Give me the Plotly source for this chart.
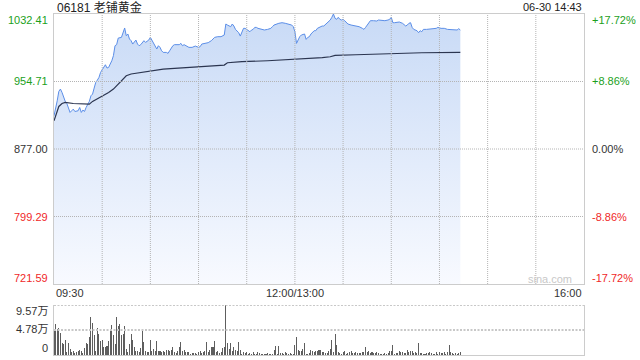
import plotly.graph_objects as go

# ---------------- data ----------------
prev_close = 877.00
axis_min, axis_max = 721.59, 1032.41

# minutes since 09:30 (trading minutes; 150 = 12:00/13:00)
price_min = [0, 1, 2, 3, 4, 5, 6, 7, 8, 9, 10, 11, 12, 13, 15, 16, 17, 18, 19, 20, 21, 22, 23, 24, 25, 26, 27,
             28, 29, 30, 31, 32, 33, 34, 35, 36, 37, 38, 39, 40, 42, 43, 44, 45, 46, 47, 48, 49, 50, 51, 52, 53,
             54, 55, 56, 57, 58, 59, 60, 61, 62, 63, 64, 65, 66, 67, 68, 70, 71, 72, 73, 74, 75, 76, 77, 78, 79,
             80, 81, 82, 83, 84,
             86, 88, 90, 91, 92, 94, 96, 98, 100, 102, 104, 106, 107, 108, 109, 110, 111, 112, 113, 115,
             116, 117, 118, 119, 120, 121, 122, 123, 124, 125, 126, 127, 128, 129, 131, 133, 135, 136, 137, 140,
             142, 144, 146, 148, 149, 150, 151, 152, 153, 154, 156, 157, 158, 159, 160, 162, 163, 164, 165, 166, 167,
             168, 170, 172, 173, 174, 175, 176, 177, 178, 179, 180, 181, 182, 183, 185, 188, 190, 192, 193, 194,
             195, 196, 197, 199, 201, 202, 204, 206, 208, 209, 210, 211, 212, 215, 217, 218, 219, 220, 221, 222,
             223, 224, 225, 226, 227, 228, 229, 230, 232, 234, 236, 238, 239, 241, 243, 245, 247, 249, 251, 252, 253]
price_val = [915.2, 922.9, 932.5, 943.3, 946.0, 942.1, 936.4, 931.8, 929.4, 924.8,
             919.1, 921.0, 922.9, 920.2, 921.0, 924.8, 919.1, 921.8, 920.2, 924.8,
             928.7, 931.8, 938.3, 940.2, 947.1, 953.7, 956.3, 959.4, 965.2, 967.9,
             971.7, 974.0, 970.2, 970.9, 974.8, 978.6, 984.4, 995.9, 997.1, 1004.7,
             1005.5, 1011.3, 1016.3, 1007.4, 1009.4, 1003.6, 1001.7, 997.8, 999.7, 1002.4,
             997.8, 995.9, 997.1, 999.7, 1001.7, 999.7, 1000.9, 1002.4, 1005.5, 1002.4,
             999.7, 995.9, 992.1, 995.9, 994.0, 990.1, 988.2, 988.2, 987.1, 990.1,
             994.0, 995.9, 997.1, 997.1, 997.8, 997.1, 998.6, 995.9, 997.1, 995.9,
             994.8, 994.0,
             994.0, 995.5, 994.0, 994.8, 997.8, 998.6, 999.4, 1001.7, 1005.5, 1006.3,
             1006.3, 1008.2, 1020.9, 1019.7, 1018.6, 1017.8, 1020.9, 1018.6, 1014.7, 1010.9,
             1007.0, 1010.9, 1015.9, 1015.9, 1014.7, 1014.0, 1012.0, 1014.0, 1014.7, 1017.0,
             1017.0, 1015.9, 1015.5, 1014.7, 1014.0, 1014.7, 1015.9, 1017.8, 1019.7, 1021.7,
             1022.4, 1021.7, 1020.9, 1019.7, 1017.8, 1012.0, 998.6, 1003.2, 1006.3, 1008.2,
             1009.4, 1003.2, 1005.5, 1006.3, 1009.4, 1013.2, 1013.2, 1015.9, 1017.0, 1017.8,
             1018.6,
             1018.6, 1021.7, 1025.5, 1028.6, 1032.4, 1027.4, 1026.3, 1028.6, 1026.3, 1025.5,
             1026.3, 1024.7, 1022.4, 1020.9, 1019.7, 1018.6, 1017.8, 1015.9, 1014.7, 1017.0,
             1019.7, 1022.4, 1024.7, 1024.7, 1024.3, 1025.5, 1024.7, 1024.7, 1025.5, 1026.3,
             1028.6, 1022.4, 1022.4, 1023.2, 1021.7, 1019.7, 1018.6, 1019.7, 1021.7, 1022.4,
             1017.0, 1014.7, 1014.0, 1013.2, 1010.9, 1013.2, 1012.0, 1014.7, 1014.7, 1015.5,
             1015.5, 1015.9, 1017.0, 1015.9, 1015.9, 1014.7, 1014.7, 1014.7, 1014.0, 1015.5,
             1014.0]

avg_min = [0, 1, 2, 3, 5, 7, 12, 17, 22, 24, 28, 31, 34, 37, 40, 43, 45, 48, 52, 56, 62, 68, 75, 83,
           96, 106, 108, 117, 133, 150, 167, 172, 175, 188, 208, 229, 253]
avg_val = [909.5, 915.0, 921.0, 926.0, 929.4, 930.6, 929.4, 928.7, 928.7, 931.8, 935.6, 939.4, 942.1,
           946.0, 951.7, 957.5, 961.3, 963.3, 964.4, 966.3, 967.9, 969.0, 969.8, 971.0,
           972.5, 973.6, 976.3, 977.5, 978.6, 980.2, 982.1, 983.2, 984.8, 985.5, 986.7, 987.8, 988.2]

# volume per minute (万股), from 09:30
volume = [4.85, 5.89, 4.98, 5.11, 4.21, 2.26, 2.14, 2.78, 0.52, 2.26,
          1.16, 0.5, 0.71, 0.32, 0.52, 0.84, 0.97, 0.84, 0.32, 1.29, 2.26,
          2.14, 3.43, 7.31, 6.15, 3.75, 0.84, 5.11, 3.95, 2.65, 2.78,
          1.62, 1.62, 1.81, 2.65, 4.72, 5.69, 3.75, 2.14, 7.31, 5.50,
          5.89, 3.75, 4.08, 5.50, 1.16, 0.6, 2.14, 4.08, 2.91, 1.62, 0.84,
          0.71, 0.52, 1.29, 4.98, 2.46, 0.84, 0.52, 0.52, 2.78, 0.84,
          1.16, 0.84, 2.65, 0.84, 0.84, 0.52, 0.84, 0.52, 0.97, 0.97,
          0.84, 0.97, 1.62, 0.52, 0.32, 0.84, 1.62, 2.46, 0.84, 0.97,
          0.52, 0.5,
          0.52, 0.19, 0.32, 0.32, 0.32, 0.19, 0.52, 0.71, 0.32, 0.52,
          0.84, 2.46, 0.52, 0.97, 1.62, 1.49, 2.65, 0.52, 0.71, 0.32,
          0.52, 1.36, 1.62, 9.57, 2.26, 1.16, 2.26, 0.84, 1.49, 0.97,
          0.71, 2.46, 0.97, 0.19, 0.52, 0.32, 0.52, 0.19, 0.32, 0.19,
          0.52, 0.19, 0.19, 0.52, 0.32, 0.19, 0.10, 0.19, 0.19, 0.32,
          0.19, 0.19, 0.19, 0.97, 1.81, 0.19, 1.81, 0.32, 0.32, 0.19,
          0.52, 0.32, 0.19, 0.32, 0.19, 0.10, 2.01, 3.43, 0.97, 0.84,
          0.84, 1.16, 2.26, 0.19, 0.19, 0.32, 0.97, 0.84, 0.52, 0.71,
          0.84, 0.97, 0.97, 0.52,
          0.52, 0.32, 0.32, 0.84, 1.16, 2.91, 0.52, 3.95, 2.01, 0.52,
          0.32, 0.19, 0.52, 0.71, 0.19, 0.32, 0.52, 0.71, 0.32, 0.32,
          0.52, 0.32, 0.32, 0.32, 0.52, 0.52, 1.62, 0.52, 0.71, 0.32,
          0.52, 0.32, 0.32, 0.52, 0.32, 0.19, 0.19, 0.19, 0.32, 0.19,
          0.32, 0.71, 0.84, 2.01, 0.19, 0.32, 0.32, 0.71, 0.52, 0.52,
          0.32, 0.32, 0.97, 0.52, 0.71, 0.84, 0.32, 0.52, 0.32, 2.26,
          0.32, 0.32, 0.19, 0.19, 0.32, 0.32, 0.52, 0.32, 0.19, 0.19,
          0.52, 0.19, 0.52, 0.32, 0.32, 0.52, 0.19, 0.52, 2.01, 0.52,
          0.32, 0.19, 0.32, 0.19, 0.32, 0.52]
vol_min = list(range(len(volume)))

y_ticks = [1032.41, 954.71, 877.00, 799.29, 721.59]
y_tick_text = ["1032.41", "954.71", "877.00", "799.29", "721.59"]
pct_text = ["+17.72%", "+8.86%", "0.00%", "-8.86%", "-17.72%"]
vol_max = 9.57
vol_ticks = [9.57, 4.78, 0]
vol_tick_text = ["9.57万", "4.78万", "0"]
session_len = 330
grid_step = 30
time_ticks = [0, 150, 330]
time_text = ["09:30", "12:00/13:00", "16:00"]
title_text = "06181 老铺黄金"
stamp_text = "06-30 14:43"

# ---------------- styling ----------------
W, H = 640, 360
FONT = "Liberation Sans, Arial, Noto Sans CJK SC, sans-serif"
GREEN, RED, DARK = "#1c9f1c", "#f02828", "#333333"
GRID = "#b4b4b4"
BORDER = "#cccccc"

def px_x(p):
    return p / W

def px_y(p):
    return 1 - p / H

fig = go.Figure()
fig.add_trace(go.Scatter(
    x=price_min, y=price_val, mode="lines",
    line=dict(color="#5b8ee8", width=1),
    fill="tozeroy",
    fillgradient=dict(type="vertical", start=axis_min, stop=axis_max,
                      colorscale=[[0, "#f8faff"], [1, "#c8daf6"]]),
    hoverinfo="skip", xaxis="x", yaxis="y"))
fig.add_trace(go.Scatter(
    x=avg_min, y=avg_val, mode="lines",
    line=dict(color="#2b3550", width=1.2),
    hoverinfo="skip", xaxis="x", yaxis="y"))
fig.add_trace(go.Bar(
    x=vol_min, y=volume, width=0.65,
    marker=dict(color="#5e5e5e", line=dict(width=0)),
    hoverinfo="skip", xaxis="x2", yaxis="y2"))

xdom = [px_x(54), px_x(584)]
fig.update_layout(
    width=W, height=H, margin=dict(l=0, r=0, t=0, b=0),
    paper_bgcolor="white", plot_bgcolor="rgba(0,0,0,0)",
    showlegend=False, bargap=0,
    xaxis=dict(domain=xdom, range=[0, session_len], showticklabels=False,
               showgrid=False, zeroline=False,
               showline=True, mirror=True, linecolor=BORDER, linewidth=1, ticks="",
               anchor="y"),
    yaxis=dict(domain=[px_y(284), px_y(14)], range=[axis_min, axis_max],
               showticklabels=False, showgrid=False,
               zeroline=False, showline=True, mirror=True, linecolor=BORDER, linewidth=1,
               ticks="", anchor="x"),
    xaxis2=dict(domain=xdom, range=[0, session_len], showticklabels=False, showgrid=False, zeroline=False,
                showline=True, linecolor=BORDER, linewidth=1, ticks="", anchor="y2"),
    yaxis2=dict(domain=[px_y(355), px_y(305)], range=[0, vol_max],
                showticklabels=False, showgrid=False,
                zeroline=False, showline=True, mirror=True, linecolor=BORDER, linewidth=1,
                ticks="", anchor="x2"),
)

shapes = []
# main panel dotted grid drawn above the fill
for gx in range(grid_step, session_len, grid_step):
    shapes.append(dict(type="line", xref="x", yref="y", x0=gx, x1=gx, y0=axis_min, y1=axis_max,
                       layer="above", line=dict(color=GRID, width=1, dash="1px,1px")))
for gy in y_ticks[1:-1]:
    shapes.append(dict(type="line", xref="x", yref="y", x0=0, x1=session_len, y0=gy, y1=gy,
                       layer="above", line=dict(color=GRID, width=1, dash="1px,1px")))
# volume panel dotted grid
for gy in vol_ticks[:2]:
    shapes.append(dict(type="line", xref="x2", yref="y2", x0=0, x1=session_len, y0=gy, y1=gy,
                       layer="above", line=dict(color="#c8c8c8", width=2, dash="2px,1.5px")))
fig.update_layout(shapes=shapes)

ann = []
def colr(v):
    if v > prev_close + 1e-6:
        return GREEN
    if v < prev_close - 1e-6:
        return RED
    return DARK

shifts = [-6, 0, 0, 0, 6]
for v, t, p, s in zip(y_ticks, y_tick_text, pct_text, shifts):
    ann.append(dict(xref="paper", yref="y", x=px_x(50), y=v, yshift=s, text=t, showarrow=False,
                    xanchor="right", yanchor="middle", font=dict(family=FONT, size=11, color=colr(v))))
    ann.append(dict(xref="paper", yref="y", x=px_x(590), y=v, yshift=s, text=p, showarrow=False,
                    xanchor="left", yanchor="middle", font=dict(family=FONT, size=11, color=colr(v))))

vshifts = [-6, 1, 7]
for v, t, s in zip(vol_ticks, vol_tick_text, vshifts):
    ann.append(dict(xref="paper", yref="y2", x=px_x(50), y=v, yshift=s, text=t, showarrow=False,
                    xanchor="right", yanchor="middle", font=dict(family=FONT, size=11, color=DARK)))

anchors = ["left", "center", "right"]
for v, t, a in zip(time_ticks, time_text, anchors):
    ann.append(dict(xref="x", yref="paper", x=v, y=px_y(293), text=t, showarrow=False,
                    xanchor=a, yanchor="middle", font=dict(family=FONT, size=11, color=DARK)))

ann.append(dict(xref="paper", yref="paper", x=px_x(55), y=px_y(7), text=title_text, showarrow=False,
                xanchor="left", yanchor="middle", font=dict(family=FONT, size=12, color="#222222")))
ann.append(dict(xref="paper", yref="paper", x=px_x(584), y=px_y(7), text=stamp_text, showarrow=False,
                xanchor="right", yanchor="middle", font=dict(family=FONT, size=11, color="#222222")))
ann.append(dict(xref="paper", yref="paper", x=px_x(574), y=px_y(279), text="sina.com", showarrow=False,
                xanchor="right", yanchor="middle", font=dict(family=FONT, size=11, color="#c8c8c8")))
fig.update_layout(annotations=ann)

fig.write_html("out.html", config={"displayModeBar": False, "staticPlot": True})
